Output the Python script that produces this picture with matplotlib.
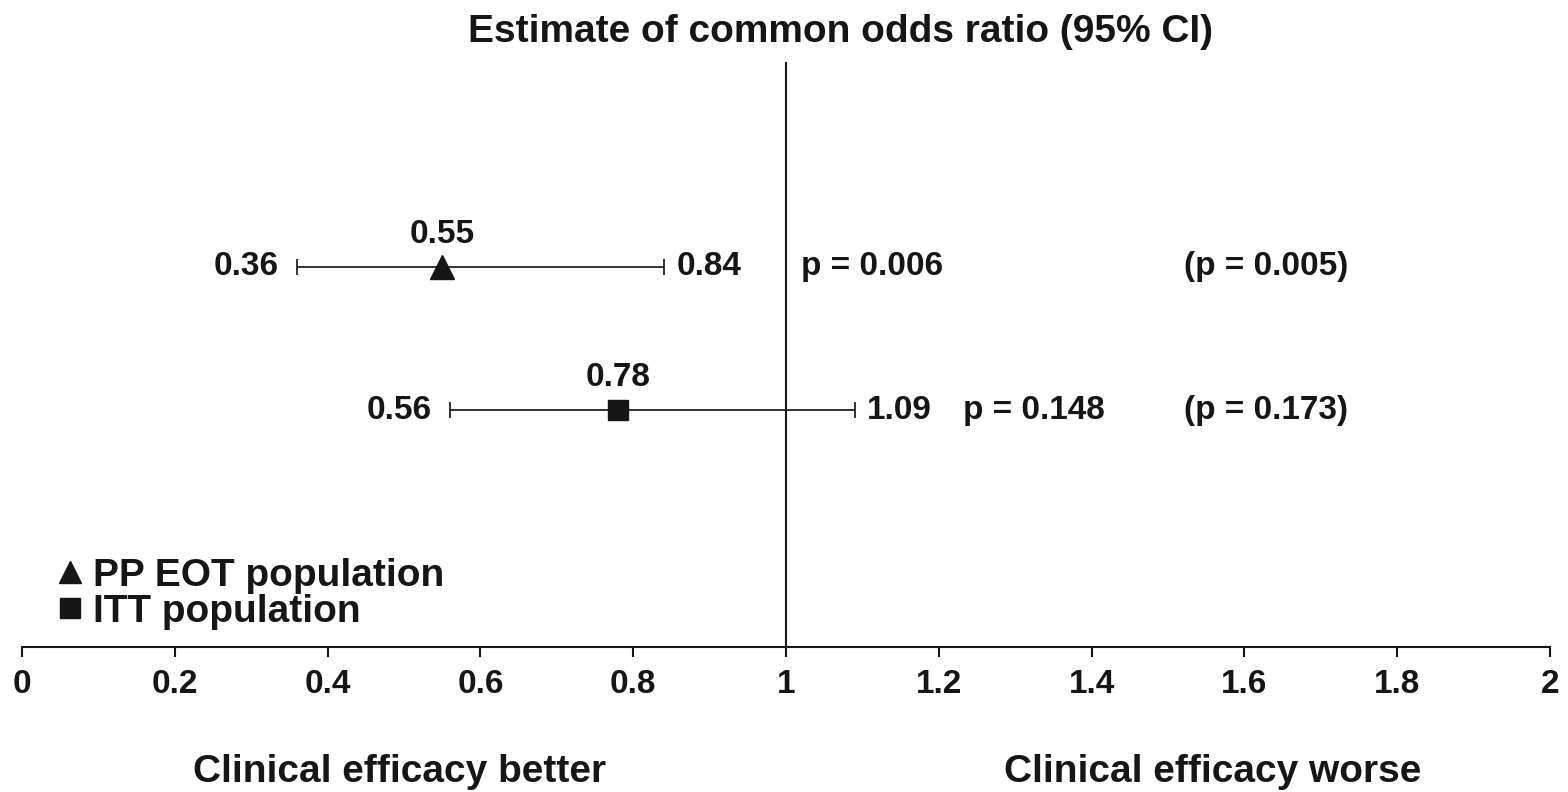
import matplotlib.pyplot as plt
from matplotlib.lines import Line2D

plt.rcParams['font.family'] = ['Liberation Sans', 'DejaVu Sans']
plt.rcParams['font.weight'] = 'bold'

# Data
populations = ['PP EOT population', 'ITT population']
odds_ratio = [0.55, 0.78]
ci_low = [0.36, 0.56]
ci_high = [0.84, 1.09]
p_values = ['p = 0.006', 'p = 0.148']
p_adjusted = ['(p = 0.005)', '(p = 0.173)']
markers = ['^', 's']
row_y = [0.65, 0.405]
x_ticks = [0, 0.2, 0.4, 0.6, 0.8, 1, 1.2, 1.4, 1.6, 1.8, 2]
x_ticklabels = ['0', '0.2', '0.4', '0.6', '0.8', '1', '1.2', '1.4', '1.6', '1.8', '2']

fig = plt.figure(figsize=(15.68, 7.92), dpi=100)
ax = fig.add_axes([22 / 1568, 145 / 792, 1528 / 1568, 585 / 792])
fs = 24
ink = '#161616'

ax.axvline(1, color=ink, lw=1.5)

for i in range(len(populations)):
    y = row_y[i]
    ax.errorbar(odds_ratio[i], y,
                xerr=[[odds_ratio[i] - ci_low[i]], [ci_high[i] - odds_ratio[i]]],
                fmt=markers[i], color=ink, ecolor='#222222',
                markersize=17 if markers[i] == '^' else 14,
                elinewidth=1.3, capsize=6, capthick=1.3)
    ax.annotate(f'{odds_ratio[i]:.2f}', (odds_ratio[i], y), xytext=(0, 12),
                textcoords='offset points', ha='center', va='bottom', fontsize=fs, color=ink)
    ax.annotate(f'{ci_low[i]:.2f}', (ci_low[i], y), xytext=(-13, 0),
                textcoords='offset points', ha='right', va='center', fontsize=fs, color=ink)
    ax.annotate(f'{ci_high[i]:.2f}', (ci_high[i], y), xytext=(9, 0),
                textcoords='offset points', ha='left', va='center', fontsize=fs, color=ink)

# p-values: first row sits just right of the reference line, second after the CI label
ax.annotate(p_values[0], (1, row_y[0]), xytext=(11, 0), textcoords='offset points',
            ha='left', va='center', fontsize=fs, color=ink)
ax.annotate(p_values[1], (ci_high[1], row_y[1]), xytext=(78, 0), textcoords='offset points',
            ha='left', va='center', fontsize=fs, color=ink)
for i in range(len(populations)):
    ax.text(1.521, row_y[i], p_adjusted[i], ha='left', va='center', fontsize=fs, color=ink)

handles = [Line2D([], [], marker=markers[i], color=ink, ls='none',
                  markersize=16 if markers[i] == '^' else 14)
           for i in range(len(populations))]
leg = ax.legend(handles, populations, loc='lower left', bbox_to_anchor=(0.012, 0.0),
                frameon=False, handlelength=0.6, handletextpad=0.3, labelspacing=0.0,
                prop={'size': 28, 'weight': 'bold'}, borderaxespad=0.05)
for t in leg.get_texts():
    t.set_color(ink)

ax.set_xlim(0, 2)
ax.set_ylim(0, 1)
ax.set_xticks(x_ticks)
ax.set_xticklabels(x_ticklabels, fontsize=fs)
ax.set_yticks([])
ax.tick_params(axis='x', direction='out', length=7, width=1.5, pad=9, colors=ink)
for side in ['top', 'right', 'left']:
    ax.spines[side].set_visible(False)
ax.spines['bottom'].set_linewidth(1.5)
ax.spines['bottom'].set_color(ink)

fig.text(0.536, 0.960, 'Estimate of common odds ratio (95% CI)', ha='center', va='center',
         fontsize=28, fontweight='bold', color=ink)
fig.text(400 / 1568, 0.025, 'Clinical efficacy better', ha='center', va='center',
         fontsize=28, fontweight='bold', color=ink)
fig.text(1213 / 1568, 0.025, 'Clinical efficacy worse', ha='center', va='center',
         fontsize=28, fontweight='bold', color=ink)

fig.savefig('out.png', dpi=100)
plt.close()
